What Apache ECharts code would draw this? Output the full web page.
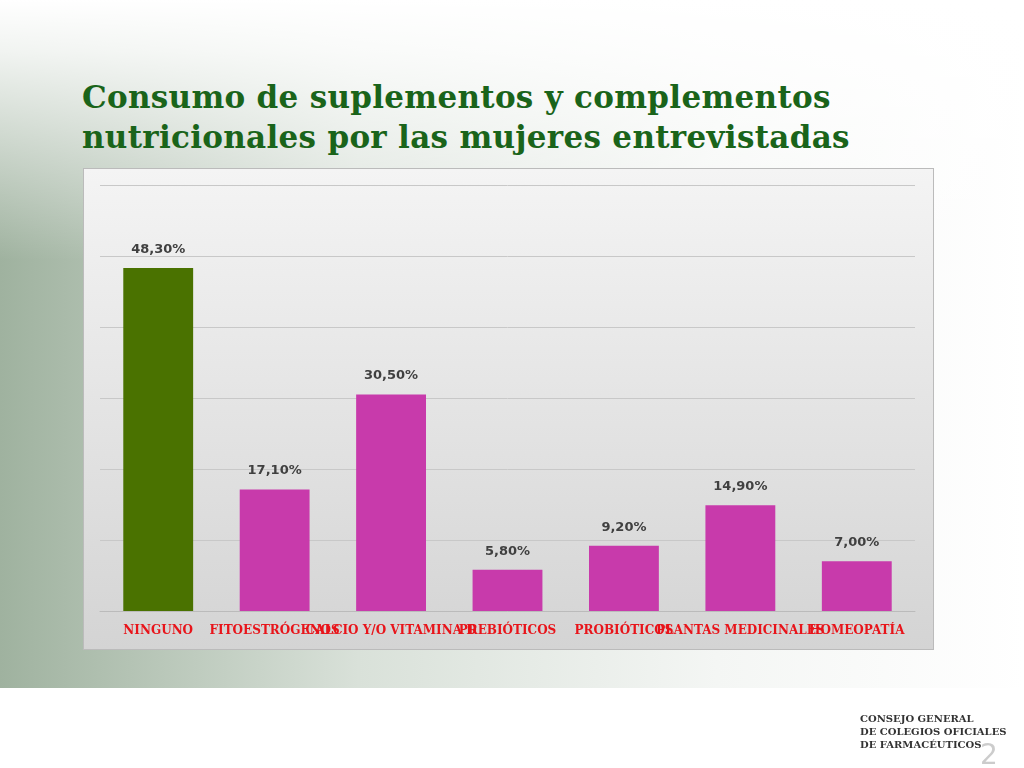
<!DOCTYPE html>
<html lang="es">
<head>
<meta charset="UTF-8">
<title>Consumo de suplementos</title>
<script src="https://cdn.jsdelivr.net/npm/echarts@6/dist/echarts.min.js"></script>
<style>
  html, body { margin:0; padding:0; width:1024px; height:768px; overflow:hidden; }
  body { background: linear-gradient(90deg, #9fb29f 0%, #d9e1d9 35%, #f4f6f4 70%, #ffffff 100%); position:relative; }
  #top { position:absolute; left:0; top:0; width:1024px; height:260px; background:linear-gradient(180deg,#fff 0%,rgba(255,255,255,0.85) 20%,rgba(255,255,255,0) 100%); }
  #foot { position:absolute; left:0; top:688px; width:1024px; height:80px; background:#fff; }
  #title { position:absolute; left:82px; top:77px; font-family:"DejaVu Serif",serif; font-weight:bold; font-size:31px; line-height:40px; color:#1a641a; letter-spacing:0.3px; }
  #panel { position:absolute; left:83px; top:168px; width:849px; height:480px; border:1px solid #bbb;
           background:linear-gradient(180deg,#f4f4f4 0%,#d4d4d4 100%); }
  #chart { position:absolute; left:0; top:0; width:1024px; height:768px; }
  #logo { position:absolute; left:860px; top:712px; font-family:"DejaVu Serif",serif; font-size:10px; font-weight:bold; color:#333; line-height:13px; }
  #pg { position:absolute; left:980px; top:738px; font-family:"DejaVu Sans",sans-serif; font-size:28px; color:#ccc; }
</style>
</head>
<body>
<div id="top"></div>
<div id="foot"></div>
<div id="title">Consumo de suplementos y complementos<br>nutricionales por las mujeres entrevistadas</div>
<div id="panel"></div>
<div id="chart"></div>
<div id="logo">CONSEJO GENERAL<br>DE COLEGIOS OFICIALES<br>DE FARMACÉUTICOS</div>
<div id="pg">2</div>
<script>
var categories = ['NINGUNO', 'FITOESTRÓGENOS', 'CALCIO Y/O VITAMINA D', 'PREBIÓTICOS', 'PROBIÓTICOS', 'PLANTAS MEDICINALES', 'HOMEOPATÍA'];
var values = [48.3, 17.1, 30.5, 5.8, 9.2, 14.9, 7.0];
var colors = ['#4a7200', '#c83aab', '#c83aab', '#c83aab', '#c83aab', '#c83aab', '#c83aab'];

var chart = echarts.init(document.getElementById('chart'));
chart.setOption({
  grid: { left: 100, right: 109, top: 185, bottom: 157 },
  xAxis: {
    type: 'category', data: categories,
    axisTick: { show: false },
    axisLine: { lineStyle: { color: '#bbb' } },
    axisLabel: { interval: 0, color: '#e8141a', fontFamily: 'DejaVu Serif', fontWeight: 'bold', fontSize: 12, margin: 14 }
  },
  yAxis: {
    type: 'value', min: 0, max: 60, interval: 10,
    axisLabel: { show: false },
    splitLine: { lineStyle: { color: '#c8c8c8' } }
  },
  series: [{
    type: 'bar', barWidth: '60%',
    data: values.map(function (v, i) { return { value: v, itemStyle: { color: colors[i] } }; }),
    label: {
      show: true, position: 'top', distance: 12, color: '#404040', fontWeight: 'bold', fontSize: 13,
      fontFamily: 'DejaVu Sans',
      formatter: function (p) { return p.value.toFixed(2).replace('.', ',') + '%'; }
    }
  }]
});
</script>
</body>
</html>
